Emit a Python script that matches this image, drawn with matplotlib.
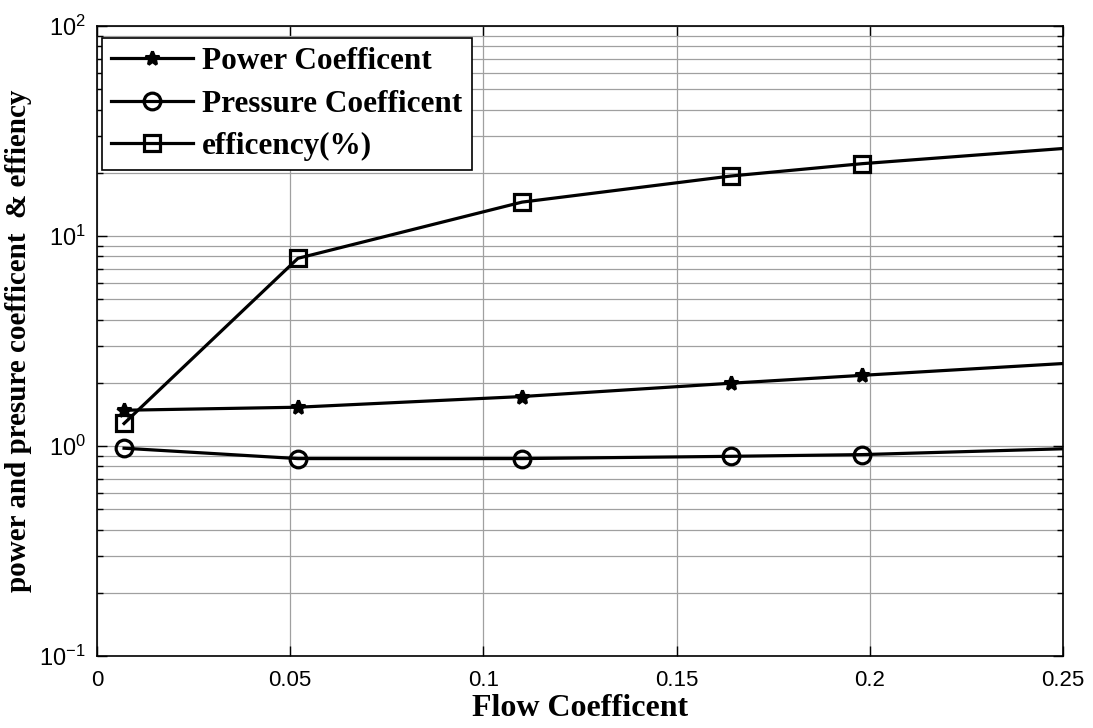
import numpy as np
import matplotlib
matplotlib.use('Agg')
import matplotlib.pyplot as plt
from matplotlib.ticker import LogLocator, FixedLocator, NullFormatter

# flow coefficient (last point lies on the right edge, no marker drawn there)
flow = [0.007, 0.052, 0.11, 0.164, 0.198, 0.25]
power = [1.48, 1.53, 1.72, 1.99, 2.17, 2.47]
pressure = [0.976, 0.871, 0.871, 0.893, 0.91, 0.97]
efficiency = [1.28, 7.83, 14.5, 19.3, 22.1, 26.1]
xticks = [0, 0.05, 0.1, 0.15, 0.2, 0.25]
xticklabels = ['0', '0.05', '0.1', '0.15', '0.2', '0.25']

serif = 'Liberation Serif'
sans = 'Liberation Sans'
plt.rcParams['mathtext.fontset'] = 'custom'
plt.rcParams['mathtext.rm'] = sans
plt.rcParams['mathtext.default'] = 'regular'

fig = plt.figure(figsize=(10.93, 7.28), dpi=100)
ax = fig.add_axes([97 / 1093, 1 - 656 / 728, (1063 - 97) / 1093, (656 - 26) / 728])

mk = list(range(len(flow) - 1))
ax.plot(flow, power, color='k', lw=2.3, marker='*', ms=10, mew=2.2,
        markevery=mk, label='Power Coefficent')
ax.plot(flow, pressure, color='k', lw=2.3, marker='o', ms=12, mew=2.3,
        mfc='none', markevery=mk, label='Pressure Coefficent')
ax.plot(flow, efficiency, color='k', lw=2.3, marker='s', ms=12, mew=2.3,
        mfc='none', markevery=mk, label='efficency(%)')

ax.set_yscale('log')
ax.set_ylim(0.1, 100)
ax.set_xlim(0, 0.25)
ax.xaxis.set_major_locator(FixedLocator(xticks))
ax.set_xticklabels(xticklabels)
ax.yaxis.set_major_locator(LogLocator(base=10, numticks=10))
ax.yaxis.set_minor_locator(LogLocator(base=10, subs=np.arange(2, 10), numticks=10))
ax.yaxis.set_minor_formatter(NullFormatter())

ax.grid(True, which='major', color='#a0a0a0', lw=0.9)
ax.grid(True, which='minor', axis='y', color='#a0a0a0', lw=0.9)
ax.set_axisbelow(True)

ax.tick_params(which='both', direction='in', top=True, right=True, width=1.0)
ax.tick_params(which='major', length=7)
ax.tick_params(axis='x', which='major', pad=10, labelsize=16)
ax.tick_params(axis='y', which='major', pad=8, labelsize=17)
ax.tick_params(which='minor', length=4)
for t in ax.get_xticklabels() + ax.get_yticklabels():
    t.set_fontfamily(sans)
for s in ax.spines.values():
    s.set_linewidth(1.2)

ax.set_xlabel('Flow Coefficent', fontsize=23, fontweight='bold', family=serif, labelpad=2)
ax.set_ylabel('power and presure coefficent  & effiency', fontsize=21,
              fontweight='bold', family=serif, labelpad=5)

leg = ax.legend(loc='upper left', bbox_to_anchor=(102 / 1093, 1 - 38 / 728),
                bbox_transform=fig.transFigure, borderaxespad=0,
                prop={'family': serif, 'weight': 'bold', 'size': 22.5},
                fancybox=False, framealpha=1, edgecolor='k',
                handlelength=2.6, handletextpad=0.3, labelspacing=0.42,
                borderpad=0.3)
leg.get_frame().set_linewidth(1.2)

plt.savefig('out.png', dpi=100)
